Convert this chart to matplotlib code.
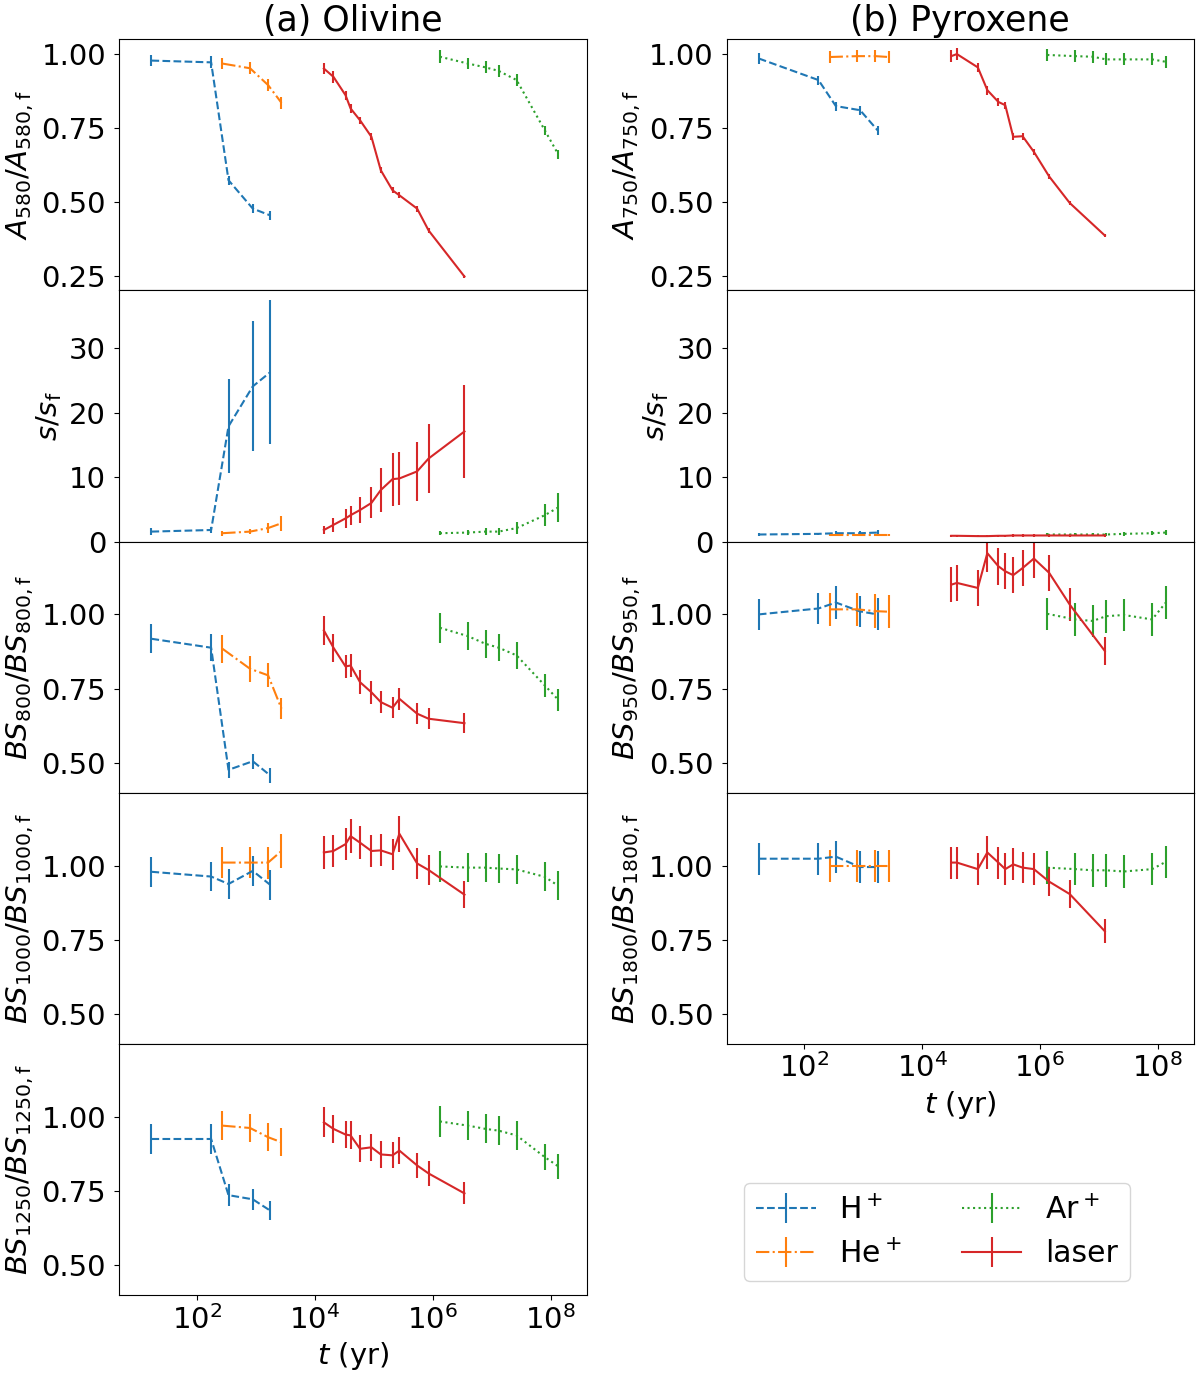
import numpy as np
import matplotlib
matplotlib.use("Agg")
import matplotlib.pyplot as plt
from matplotlib.ticker import FormatStrFormatter, FixedLocator, NullLocator

# temps d'irradiation equivalents (yr)
t_H = [17, 175, 345, 890, 1760]
t_He = [270, 800, 1620, 2730]
t_Ar = [1.33e6, 3.95e6, 7.9e6, 1.32e7, 2.66e7, 8.0e7, 1.35e8]
t_laser_ol = [1.43e4, 2.08e4, 3.33e4, 4.06e4, 5.87e4, 9.16e4, 1.32e5, 2.09e5, 2.73e5, 5.46e5, 8.55e5, 3.47e6]
t_laser_px = [3.13e4, 3.9e4, 8.83e4, 1.28e5, 1.97e5, 2.58e5, 3.52e5, 5.08e5, 7.89e5, 1.43e6, 3.2e6, 1.26e7]

# ---- olivine ----
ol_A_H = [0.978, 0.972, 0.573, 0.477, 0.454]
ol_A_H_err = [0.02, 0.02, 0.015, 0.015, 0.015]
ol_A_He = [0.968, 0.952, 0.895, 0.835]
ol_A_He_err = [0.02, 0.02, 0.02, 0.02]
ol_A_Ar = [0.991, 0.968, 0.955, 0.943, 0.912, 0.742, 0.661]
ol_A_Ar_err = [0.022, 0.02, 0.02, 0.02, 0.02, 0.015, 0.015]
ol_A_las = [0.951, 0.923, 0.861, 0.816, 0.776, 0.720, 0.607, 0.539, 0.522, 0.477, 0.403, 0.247]
ol_A_las_err = [0.02, 0.02, 0.015, 0.015, 0.012, 0.012, 0.01, 0.01, 0.01, 0.01, 0.008, 0.005]

ol_s_H = [1.55, 1.8, 17.9, 24.1, 26.3]
ol_s_H_err = [0.5, 0.5, 7.3, 10.1, 11.2]
ol_s_He = [1.3, 1.55, 2.1, 2.85]
ol_s_He_err = [0.4, 0.4, 0.8, 1.2]
ol_s_Ar = [1.3, 1.4, 1.55, 1.55, 2.1, 4.1, 5.3]
ol_s_Ar_err = [0.3, 0.4, 0.5, 0.5, 0.9, 1.7, 2.3]
ol_s_las = [1.8, 2.6, 3.6, 4.1, 4.9, 6.0, 8.0, 9.7, 9.8, 10.9, 12.9, 17.1]
ol_s_las_err = [0.6, 1.1, 1.5, 1.5, 2.0, 2.4, 3.4, 4.1, 4.1, 4.6, 5.4, 7.2]

ol_b800_H = [0.918, 0.888, 0.477, 0.506, 0.458]
ol_b800_H_err = [0.049, 0.045, 0.028, 0.025, 0.024]
ol_b800_He = [0.885, 0.817, 0.795, 0.683]
ol_b800_He_err = [0.047, 0.043, 0.04, 0.035]
ol_b800_Ar = [0.955, 0.927, 0.901, 0.888, 0.862, 0.761, 0.713]
ol_b800_Ar_err = [0.05, 0.048, 0.047, 0.046, 0.045, 0.04, 0.037]
ol_b800_las = [0.946, 0.888, 0.825, 0.828, 0.772, 0.738, 0.705, 0.686, 0.716, 0.666, 0.649, 0.634]
ol_b800_las_err = [0.049, 0.047, 0.039, 0.039, 0.04, 0.038, 0.037, 0.036, 0.038, 0.035, 0.035, 0.033]

ol_b1000_H = [0.979, 0.963, 0.938, 0.982, 0.935]
ol_b1000_H_err = [0.05, 0.05, 0.049, 0.05, 0.05]
ol_b1000_He = [1.010, 1.010, 1.010, 1.049]
ol_b1000_He_err = [0.051, 0.052, 0.054, 0.056]
ol_b1000_Ar = [0.997, 0.993, 0.993, 0.99, 0.987, 0.962, 0.932]
ol_b1000_Ar_err = [0.051, 0.05, 0.05, 0.05, 0.05, 0.049, 0.049]
ol_b1000_las = [1.044, 1.049, 1.072, 1.099, 1.077, 1.049, 1.051, 1.038, 1.107, 1.007, 0.985, 0.902]
ol_b1000_las_err = [0.054, 0.053, 0.055, 0.057, 0.055, 0.054, 0.054, 0.053, 0.061, 0.052, 0.05, 0.046]

ol_b1250_H = [0.925, 0.925, 0.736, 0.722, 0.684]
ol_b1250_H_err = [0.049, 0.049, 0.037, 0.036, 0.033]
ol_b1250_He = [0.97, 0.962, 0.931, 0.914]
ol_b1250_He_err = [0.049, 0.048, 0.047, 0.047]
ol_b1250_Ar = [0.984, 0.970, 0.959, 0.953, 0.937, 0.864, 0.833]
ol_b1250_Ar_err = [0.051, 0.05, 0.049, 0.049, 0.048, 0.045, 0.043]
ol_b1250_las = [0.981, 0.959, 0.94, 0.937, 0.892, 0.897, 0.873, 0.870, 0.886, 0.836, 0.809, 0.742]
ol_b1250_las_err = [0.05, 0.048, 0.047, 0.047, 0.045, 0.045, 0.044, 0.044, 0.045, 0.042, 0.041, 0.037]

# ---- pyroxene ----
px_A_H = [0.985, 0.912, 0.824, 0.810, 0.742]
px_A_H_err = [0.02, 0.015, 0.015, 0.015, 0.015]
px_A_He = [0.99, 0.993, 0.993, 0.99]
px_A_He_err = [0.02, 0.02, 0.02, 0.02]
px_A_Ar = [0.997, 0.993, 0.991, 0.982, 0.982, 0.982, 0.974]
px_A_Ar_err = [0.02, 0.02, 0.02, 0.02, 0.02, 0.02, 0.02]
px_A_las = [0.993, 1.0, 0.955, 0.878, 0.838, 0.827, 0.720, 0.722, 0.669, 0.586, 0.496, 0.386]
px_A_las_err = [0.02, 0.02, 0.015, 0.015, 0.015, 0.012, 0.012, 0.012, 0.01, 0.008, 0.006, 0.005]

px_s_H = [1.1, 1.2, 1.3, 1.3, 1.4]
px_s_H_err = [0.2, 0.2, 0.3, 0.3, 0.4]
px_s_He = [1.0, 1.0, 1.0, 1.0]
px_s_He_err = [0.2, 0.2, 0.2, 0.2]
px_s_Ar = [1.1, 1.1, 1.1, 1.1, 1.2, 1.3, 1.4]
px_s_Ar_err = [0.2, 0.2, 0.2, 0.2, 0.3, 0.3, 0.4]
px_s_las = [0.9, 0.9, 0.85, 0.85, 0.9, 0.9, 0.95, 0.95, 0.95, 0.95, 0.95, 0.95]
px_s_las_err = [0.2, 0.2, 0.2, 0.2, 0.2, 0.2, 0.2, 0.2, 0.2, 0.2, 0.2, 0.2]

px_b950_H = [1.0, 1.02, 1.04, 1.01, 1.0]
px_b950_H_err = [0.051, 0.052, 0.056, 0.052, 0.054]
px_b950_He = [1.017, 1.017, 1.011, 1.009]
px_b950_He_err = [0.056, 0.056, 0.056, 0.056]
px_b950_Ar = [1.002, 0.983, 0.978, 0.994, 0.998, 0.983, 1.039]
px_b950_Ar_err = [0.054, 0.054, 0.054, 0.055, 0.055, 0.054, 0.056]
px_b950_las = [1.100, 1.106, 1.089, 1.206, 1.162, 1.145, 1.132, 1.156, 1.188, 1.140, 1.033, 0.877]
px_b950_las_err = [0.059, 0.06, 0.06, 0.065, 0.062, 0.06, 0.06, 0.062, 0.064, 0.06, 0.055, 0.046]

px_b1800_H = [1.023, 1.023, 1.03, 0.995, 0.995]
px_b1800_H_err = [0.054, 0.054, 0.054, 0.054, 0.054]
px_b1800_He = [0.999, 0.999, 0.999, 0.999]
px_b1800_He_err = [0.054, 0.054, 0.054, 0.054]
px_b1800_Ar = [0.993, 0.988, 0.984, 0.984, 0.98, 0.988, 1.012]
px_b1800_Ar_err = [0.055, 0.055, 0.055, 0.055, 0.055, 0.055, 0.055]
px_b1800_las = [1.01, 1.01, 0.988, 1.044, 1.01, 0.988, 1.004, 0.993, 0.988, 0.946, 0.904, 0.779]
px_b1800_las_err = [0.054, 0.054, 0.053, 0.055, 0.054, 0.053, 0.054, 0.053, 0.053, 0.05, 0.048, 0.041]

labels = ['H$^+$', 'He$^+$', 'Ar$^+$', 'laser']
styles = ['--', '-.', ':', '-']
couleurs = ['tab:blue', 'tab:orange', 'tab:green', 'tab:red']

plt.rcParams['font.size'] = 21

fig = plt.figure(figsize=(12, 13.79), dpi=100)
gs = fig.add_gridspec(5, 2, left=0.0994, right=0.995, top=0.9715, bottom=0.0609,
                      hspace=0, wspace=0.2995)


def trace(ax, t_las, data, ylab, ylim, yticks, fmt):
    ts = [t_H, t_He, t_Ar, t_las]
    handles = []
    for i in range(4):
        y, e = data[i]
        h = ax.errorbar(ts[i], y, yerr=e, ls=styles[i], color=couleurs[i],
                        label=labels[i], capsize=0)
        handles.append(h)
    ax.set_xscale('log')
    ax.set_xlim(10**0.685, 10**8.613)
    ax.xaxis.set_major_locator(FixedLocator([1e2, 1e4, 1e6, 1e8]))
    ax.xaxis.set_minor_locator(NullLocator())
    ax.set_ylim(*ylim)
    ax.set_yticks(yticks)
    ax.yaxis.set_major_formatter(FormatStrFormatter(fmt))
    ax.tick_params(axis='y', pad=6)
    ax.set_ylabel(ylab)
    return handles


A_lim = (0.2, 1.05)
A_ticks = [0.25, 0.5, 0.75, 1.0]
s_lim = (0, 39)
s_ticks = [0, 10, 20, 30]
B_lim = (0.40, 1.245)
B_ticks = [0.5, 0.75, 1.0]

olivine = [
    ([(ol_A_H, ol_A_H_err), (ol_A_He, ol_A_He_err), (ol_A_Ar, ol_A_Ar_err), (ol_A_las, ol_A_las_err)],
     r'$A_{580}/A_{580,\mathrm{f}}$', A_lim, A_ticks, '%.2f'),
    ([(ol_s_H, ol_s_H_err), (ol_s_He, ol_s_He_err), (ol_s_Ar, ol_s_Ar_err), (ol_s_las, ol_s_las_err)],
     r'$s/s_\mathrm{f}$', s_lim, s_ticks, '%d'),
    ([(ol_b800_H, ol_b800_H_err), (ol_b800_He, ol_b800_He_err), (ol_b800_Ar, ol_b800_Ar_err), (ol_b800_las, ol_b800_las_err)],
     r'$BS_{800}/BS_{800,\mathrm{f}}$', B_lim, B_ticks, '%.2f'),
    ([(ol_b1000_H, ol_b1000_H_err), (ol_b1000_He, ol_b1000_He_err), (ol_b1000_Ar, ol_b1000_Ar_err), (ol_b1000_las, ol_b1000_las_err)],
     r'$BS_{1000}/BS_{1000,\mathrm{f}}$', B_lim, B_ticks, '%.2f'),
    ([(ol_b1250_H, ol_b1250_H_err), (ol_b1250_He, ol_b1250_He_err), (ol_b1250_Ar, ol_b1250_Ar_err), (ol_b1250_las, ol_b1250_las_err)],
     r'$BS_{1250}/BS_{1250,\mathrm{f}}$', B_lim, B_ticks, '%.2f'),
]

pyroxene = [
    ([(px_A_H, px_A_H_err), (px_A_He, px_A_He_err), (px_A_Ar, px_A_Ar_err), (px_A_las, px_A_las_err)],
     r'$A_{750}/A_{750,\mathrm{f}}$', A_lim, A_ticks, '%.2f'),
    ([(px_s_H, px_s_H_err), (px_s_He, px_s_He_err), (px_s_Ar, px_s_Ar_err), (px_s_las, px_s_las_err)],
     r'$s/s_\mathrm{f}$', s_lim, s_ticks, '%d'),
    ([(px_b950_H, px_b950_H_err), (px_b950_He, px_b950_He_err), (px_b950_Ar, px_b950_Ar_err), (px_b950_las, px_b950_las_err)],
     r'$BS_{950}/BS_{950,\mathrm{f}}$', B_lim, B_ticks, '%.2f'),
    ([(px_b1800_H, px_b1800_H_err), (px_b1800_He, px_b1800_He_err), (px_b1800_Ar, px_b1800_Ar_err), (px_b1800_las, px_b1800_las_err)],
     r'$BS_{1800}/BS_{1800,\mathrm{f}}$', B_lim, B_ticks, '%.2f'),
]

for k, (data, ylab, ylim, yt, fmt) in enumerate(olivine):
    ax = fig.add_subplot(gs[k, 0])
    handles = trace(ax, t_laser_ol, data, ylab, ylim, yt, fmt)
    if k == 0:
        ax.set_title('(a) Olivine', fontsize=25)
    if k < 4:
        ax.tick_params(labelbottom=False)
    else:
        ax.set_xlabel('$t$ (yr)')

for k, (data, ylab, ylim, yt, fmt) in enumerate(pyroxene):
    ax = fig.add_subplot(gs[k, 1])
    trace(ax, t_laser_px, data, ylab, ylim, yt, fmt)
    if k == 0:
        ax.set_title('(b) Pyroxene', fontsize=25)
    if k < 3:
        ax.tick_params(labelbottom=False)
    else:
        ax.set_xlabel('$t$ (yr)')

fig.legend(handles, labels, ncol=2, loc='center',
           bbox_to_anchor=(937 / 1200, 1 - 1232 / 1379), fontsize=21.5)

fig.savefig('out.png', dpi=100)
